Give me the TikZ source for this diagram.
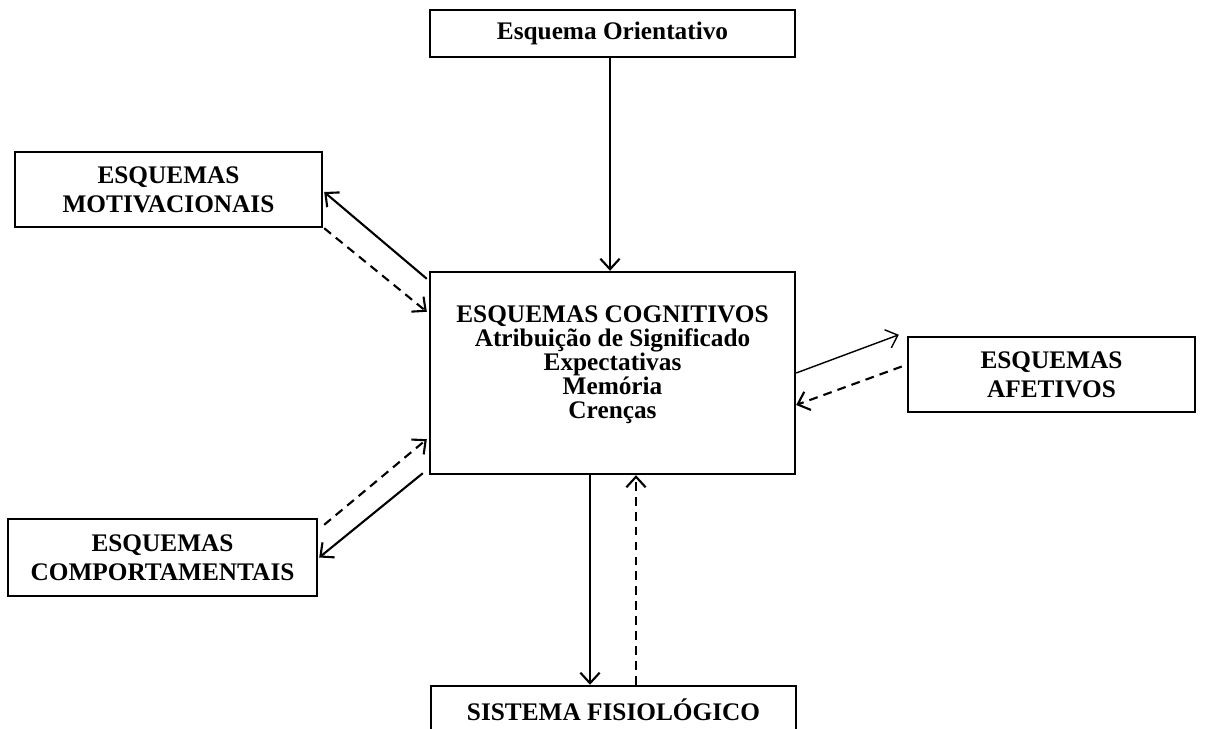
\documentclass[tikz,border=0pt]{standalone}
\usepackage{fontspec}
\setmainfont{Liberation Serif}
\usetikzlibrary{arrows.meta,calc}

\begin{document}
\begin{tikzpicture}[x=0.02cm,y=-0.02cm,
    caixa/.style={draw,line width=1.4pt,inner sep=0pt,align=center,
        font=\bfseries\fontsize{14.4}{16.5}\selectfont},
    seta/.style={line width=1.2pt,-{Straight Barb[length=6pt,width=11pt]}},
    tracejada/.style={seta,dash pattern=on 5pt off 3.5pt}]
    \useasboundingbox (0,0) rectangle (1216,729);
    \clip (0,0) rectangle (1216,729);

    \node[caixa,minimum width=7.3cm,minimum height=0.94cm] (orient) at (612.5,33.5) {Esquema Orientativo};
    \node[caixa,minimum width=7.3cm,minimum height=4.04cm,text depth=12pt,
        font=\bfseries\fontsize{14.4}{13.7}\selectfont] (cog) at (612.5,373)
        {ESQUEMAS COGNITIVOS\\Atribuição de Significado\\Expectativas\\Memória\\Crenças};
    \node[caixa,minimum width=6.14cm,minimum height=1.5cm] (motiv) at (168.5,189.5) {ESQUEMAS\\MOTIVACIONAIS};
    \node[caixa,minimum width=5.74cm,minimum height=1.5cm] (afet) at (1051.5,374.5) {ESQUEMAS\\AFETIVOS};
    \node[caixa,minimum width=6.18cm,minimum height=1.54cm] (comport) at (162.5,557.5) {ESQUEMAS\\COMPORTAMENTAIS};
    \node[caixa,minimum width=7.3cm,minimum height=0.96cm] (fisio) at (613.5,710) {SISTEMA FISIOLÓGICO};

    % ligacoes
    \draw[seta] ($(orient.south)+(-2.5,0)$) -- ($(cog.north)+(-2.5,0)$);
    \draw[seta] ($(cog.north west)+(-2,8)$) -- ($(motiv.east)+(1,2.5)$);
    \draw[tracejada] ($(motiv.south east)+(1,0)$) -- ($(cog.north west)+(-2,41)$);
    \draw[tracejada] ($(comport.north east)+(6,7)$) -- ($(cog.south west)+(-2,-36)$);
    \draw[seta] ($(cog.south west)+(-6,-2)$) -- ($(comport.east)+(1,0)$);
    \draw[seta,line width=0.8pt] (cog.east) -- ($(afet.north west)+(-8,-1)$);
    \draw[tracejada] ($(afet.west)+(-5,-8)$) -- ($(cog.east)+(0,32)$);
    \draw[seta] ($(cog.south)+(-22.5,0)$) -- ($(fisio.north)+(-23.5,0)$);
    \draw[tracejada] ($(fisio.north)+(22.5,0)$) -- ($(cog.south)+(23.5,0)$);
\end{tikzpicture}
\end{document}
